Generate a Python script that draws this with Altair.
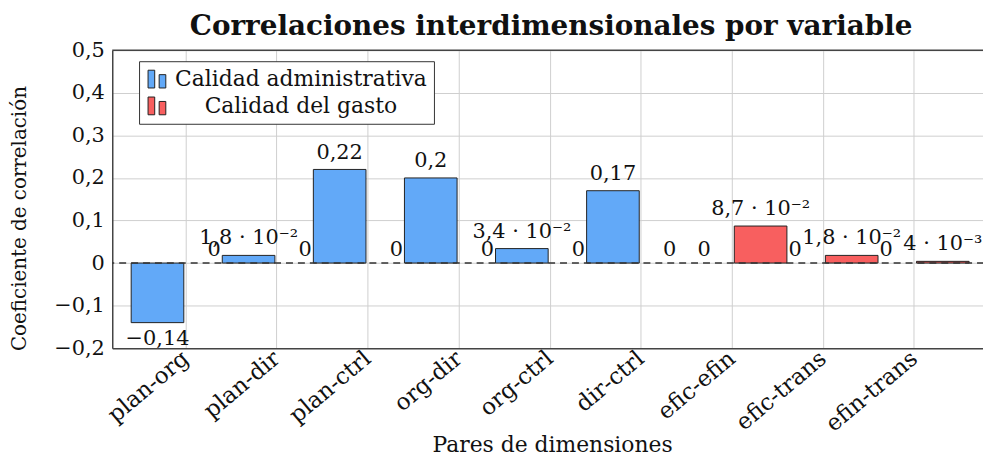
import math
import altair as alt
import pandas as pd

categories = ["plan-org", "plan-dir", "plan-ctrl", "org-dir", "org-ctrl",
              "dir-ctrl", "efic-efin", "efic-trans", "efin-trans"]
series_names = ["Calidad administrativa", "Calidad del gasto"]
admin_values = [-0.14, 0.018, 0.22, 0.2, 0.034, 0.17, 0, 0, 0]
gasto_values = [0, 0, 0, 0, 0, 0, 0.087, 0.018, 0.004]
series_colors = ["#62A9F8", "#F85F5F"]
y_ticks = [-0.2, -0.1, 0, 0.1, 0.2, 0.3, 0.4, 0.5]

SUP = str.maketrans("-0123456789", "⁻⁰¹²³⁴⁵⁶⁷⁸⁹")


def fmt(v):
    if v == 0:
        return "0"
    if abs(v) < 0.1:
        e = math.floor(math.log10(abs(v)))
        m = v / 10 ** e
        s = f"{m:.1f}".rstrip("0").rstrip(".").replace(".", ",").replace("-", "−")
        return f"{s} · 10" + str(e).translate(SUP)
    s = f"{v:.2f}".rstrip("0").rstrip(".")
    return s.replace(".", ",").replace("-", "−")


rows = []
for i, c in enumerate(categories):
    for name, vals in zip(series_names, [admin_values, gasto_values]):
        rows.append({"cat": c, "series": name, "value": vals[i], "label": fmt(vals[i])})
df = pd.DataFrame(rows)

FONT = "DejaVu Serif"
W, H = 890, 300

x_enc = alt.X(
    "cat:N", sort=categories,
    scale=alt.Scale(range=[0, 882], paddingInner=0, paddingOuter=0.307),
    axis=alt.Axis(
        title="Pares de dimensiones", labelAngle=-40, labelAlign="right",
        labelBaseline="middle", labelPadding=7, labelFont=FONT, labelFontSize=23,
        labelColor="#111", grid=True, gridColor="#cfcfcf", gridWidth=1, ticks=False,
        bandPosition=0.5, domainColor="#444", domainWidth=1.5, labelLimit=300,
        titleFont=FONT, titleFontSize=22, titleFontWeight="normal", titleColor="#111",
        titleX=443, titleY=104, titleBaseline="alphabetic", titleAlign="center",
    ),
)
xo_enc = alt.XOffset(
    "series:N", sort=series_names,
    scale=alt.Scale(domain=series_names, range=[-9.1, 100.9], paddingInner=0.07, paddingOuter=0),
)
y_enc = alt.Y(
    "value:Q",
    scale=alt.Scale(domain=[-0.2, 0.5], nice=False, zero=False),
    axis=alt.Axis(
        values=y_ticks,
        labelExpr="datum.value == 0 ? '0' : replace(replace(format(datum.value, '.1f'), '.', ','), '-', '−')",
        title="Coeficiente de correlación", titleFont=FONT, titleFontSize=20,
        titleFontWeight="normal", titleColor="#111", titleX=-93, titleY=169,
        titleAlign="center", titleBaseline="middle", titleAngle=-90,
        grid=True, gridColor="#cfcfcf", gridWidth=1, ticks=False, labelPadding=8,
        labelFont=FONT, labelFontSize=21, labelColor="#111",
        domainColor="#444", domainWidth=1.5,
    ),
)

base = alt.Chart(df)

bars = base.mark_bar(stroke="#222", strokeWidth=1).encode(
    x=x_enc, xOffset=xo_enc, y=y_enc,
    color=alt.Color(
        "series:N",
        scale=alt.Scale(domain=series_names, range=series_colors),
        legend=alt.Legend(
            title=None, orient="none", legendX=27, legendY=11,
            fillColor="white", strokeColor="#333", padding=7,
            labelFont=FONT, labelFontSize=22, labelColor="#111",
            labelAlign="center", labelOffset=134, labelLimit=500, rowPadding=5,
            symbolType="M-1,1V-1H-0.25V1Z M0.25,1V-0.5H1V1Z",
            symbolSize=320, symbolStrokeColor="#222", symbolStrokeWidth=1,
            symbolOpacity=1,
        ),
    ),
).transform_filter("datum.value != 0")

pos_text = base.mark_text(baseline="bottom", dy=-7, font=FONT, fontSize=21, color="#111").encode(
    x=x_enc, xOffset=xo_enc, y=y_enc, text="label:N"
).transform_filter("datum.value > 0")

zero_text = base.mark_text(baseline="bottom", dy=-3, font=FONT, fontSize=21, color="#111").encode(
    x=x_enc, xOffset=xo_enc, y=y_enc, text="label:N"
).transform_filter("datum.value == 0")

neg_text = base.mark_text(baseline="top", dy=6, font=FONT, fontSize=21, color="#111").encode(
    x=x_enc, xOffset=xo_enc, y=y_enc, text="label:N"
).transform_filter("datum.value < 0")

zero_line = alt.Chart(pd.DataFrame({"value": [0]})).mark_rule(
    color="#333", strokeDash=[7, 5], strokeWidth=1.4
).encode(y=y_enc)

top_line = alt.Chart(pd.DataFrame({"value": [0.5]})).mark_rule(
    color="#444", strokeWidth=1.5
).encode(y=y_enc)

chart = alt.layer(bars, zero_line, top_line, pos_text, zero_text, neg_text).properties(
    width=W, height=H,
    title=alt.TitleParams(
        "Correlaciones interdimensionales por variable", font=FONT, fontSize=28,
        fontWeight="bold", color="#111", anchor="middle", offset=0, dx=-3, dy=2,
    ),
    autosize=alt.AutoSizeParams(type="none"),
    padding={"left": 105, "top": 41, "right": -13, "bottom": 105},
).configure_view(stroke="transparent", strokeWidth=0)

chart.save("out.html", embed_options={"renderer": "svg", "actions": False})
